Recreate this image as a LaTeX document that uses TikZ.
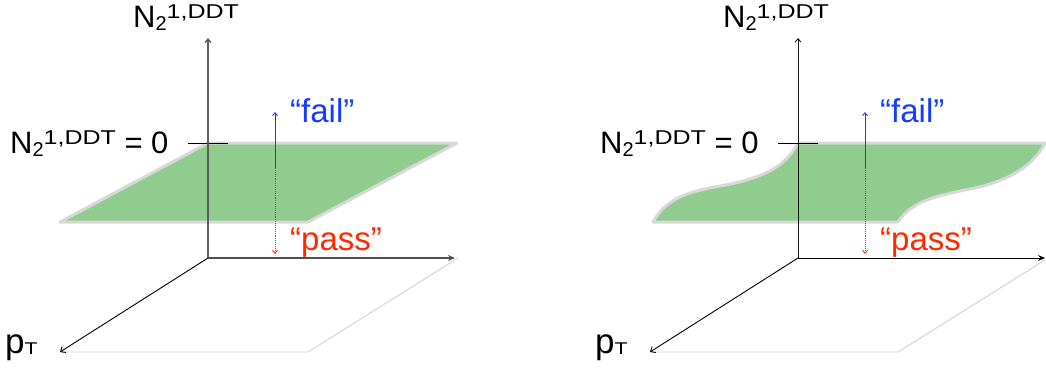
\documentclass[tikz,border=0pt]{standalone}
\usepackage{fontspec}
\setmainfont{Liberation Sans}
\usetikzlibrary{arrows.meta}
\definecolor{plane}{RGB}{144,204,142}
\definecolor{rim}{RGB}{216,216,216}
\definecolor{failblue}{RGB}{20,60,255}
\definecolor{passred}{RGB}{255,40,0}
\definecolor{axgray}{RGB}{80,80,80}
\newcommand\NDDT{N\raisebox{-3pt}{\fontsize{20}{20}\selectfont 2}\raisebox{9pt}{\scalebox{1.25}[1]{\fontsize{20}{20}\selectfont 1,DDT}}}
\newcommand\PTlab{{\fontsize{35}{35}\selectfont p}\raisebox{-1pt}{\scalebox{1.25}[1]{\fontsize{17}{17}\selectfont T}}}
\tikzset{
  axL/.style={draw=axgray, line width=1.4pt},
  axR/.style={draw=black, line width=0.9pt},
  paxis/.style={draw=black, line width=0.9pt, -{Straight Barb[length=4pt,width=7pt]}},
  vtip/.style={-{Straight Barb[length=3.5pt,width=6pt]}},
  htip/.style={-{Stealth[length=7pt,width=6pt]}},
  faint/.style={draw=black!18, line width=0.9pt},
  greenplane/.style={fill=plane, draw=rim, line width=3pt, line join=round},
  ticks/.style={draw=black, line width=0.9pt},
  lab/.style={inner sep=0pt, anchor=base west, font=\fontsize{31}{31}\selectfont},
  big/.style={inner sep=0pt, anchor=base west, font=\fontsize{33}{33}\selectfont},
  failarrow/.style={draw=failblue, line width=0.9pt, -{Straight Barb[length=3pt,width=5pt]}},
  passarrow/.style={draw=passred, line width=0.9pt, densely dotted, -{Straight Barb[length=3pt,width=5pt]}}
}
\begin{document}
\begin{tikzpicture}[x=1pt,y=-1pt]
\useasboundingbox (0,0) rectangle (1046,368);

% ---------------- left panel ----------------
\coordinate (Lo) at (208,258);
\coordinate (Ltop) at (208,38);
\coordinate (Lx) at (455,258);
\coordinate (Lp) at (60,352);
\coordinate (Lf1) at (308,352);
\coordinate (Lf2) at (458,258);
\coordinate (Lt1) at (188,143);
\coordinate (Lt2) at (228,143);
\coordinate (Lm) at (275,168);
\coordinate (Lfa) at (275,112);
\coordinate (Lpa) at (275,254);

\draw[faint] (Lp) -- (Lf1) -- (Lf2);
\draw[greenplane] (208,143) -- (457,143) -- (308,222) -- (60,222) -- cycle;
\draw[ticks] (Lt1) -- (Lt2);
\draw[axL, vtip, draw opacity=0.9] (Lo) -- (Ltop);
\draw[axL, htip] (Lo) -- (Lx);
\draw[paxis] (Lo) -- (Lp);
\draw[failarrow] (Lm) -- (Lfa);
\draw[passarrow] (Lm) -- (Lpa);

\node[lab] (Ltitle) at (133,27) {\NDDT};
\node[lab] (Lzero) at (10,153) {\NDDT{} = 0};
\node[big, text=failblue] (Lfail) at (290,122) {“fail”};
\node[big, text=passred] (Lpass) at (290,250) {“pass”};
\node[lab] (LpT) at (5,353) {\PTlab};

% ---------------- right panel ----------------
\begin{scope}[xshift=590pt]
\coordinate (Ro) at (208,258);
\coordinate (Rtop) at (208,38);
\coordinate (Rx) at (455,258);
\coordinate (Rp) at (60,352);
\coordinate (Rf1) at (308,352);
\coordinate (Rf2) at (455,260);
\coordinate (Rt1) at (188,143);
\coordinate (Rt2) at (228,143);
\coordinate (Rm) at (275,168);
\coordinate (Rfa) at (275,112);
\coordinate (Rpa) at (275,254);

\draw[faint] (Rp) -- (Rf1) -- (Rf2);
\draw[greenplane] (63,222) .. controls (75,200) and (95,192) .. (130,186)
   .. controls (170,179) and (195,168) .. (208,143)
   -- (455,143)
   .. controls (443,166) and (420,180) .. (385,188)
   .. controls (350,195) and (322,200) .. (308,222) -- cycle;
\draw[ticks] (Rt1) -- (Rt2);
\draw[axR, vtip, draw opacity=0.9] (Ro) -- (Rtop);
\draw[axR, htip] (Ro) -- (Rx);
\draw[paxis] (Ro) -- (Rp);
\draw[failarrow] (Rm) -- (Rfa);
\draw[passarrow] (Rm) -- (Rpa);

\node[lab] (Rtitle) at (133,27) {\NDDT};
\node[lab] (Rzero) at (10,153) {\NDDT{} = 0};
\node[big, text=failblue] (Rfail) at (290,122) {“fail”};
\node[big, text=passred] (Rpass) at (290,250) {“pass”};
\node[lab] (RpT) at (5,353) {\PTlab};
\end{scope}
\end{tikzpicture}
\end{document}
